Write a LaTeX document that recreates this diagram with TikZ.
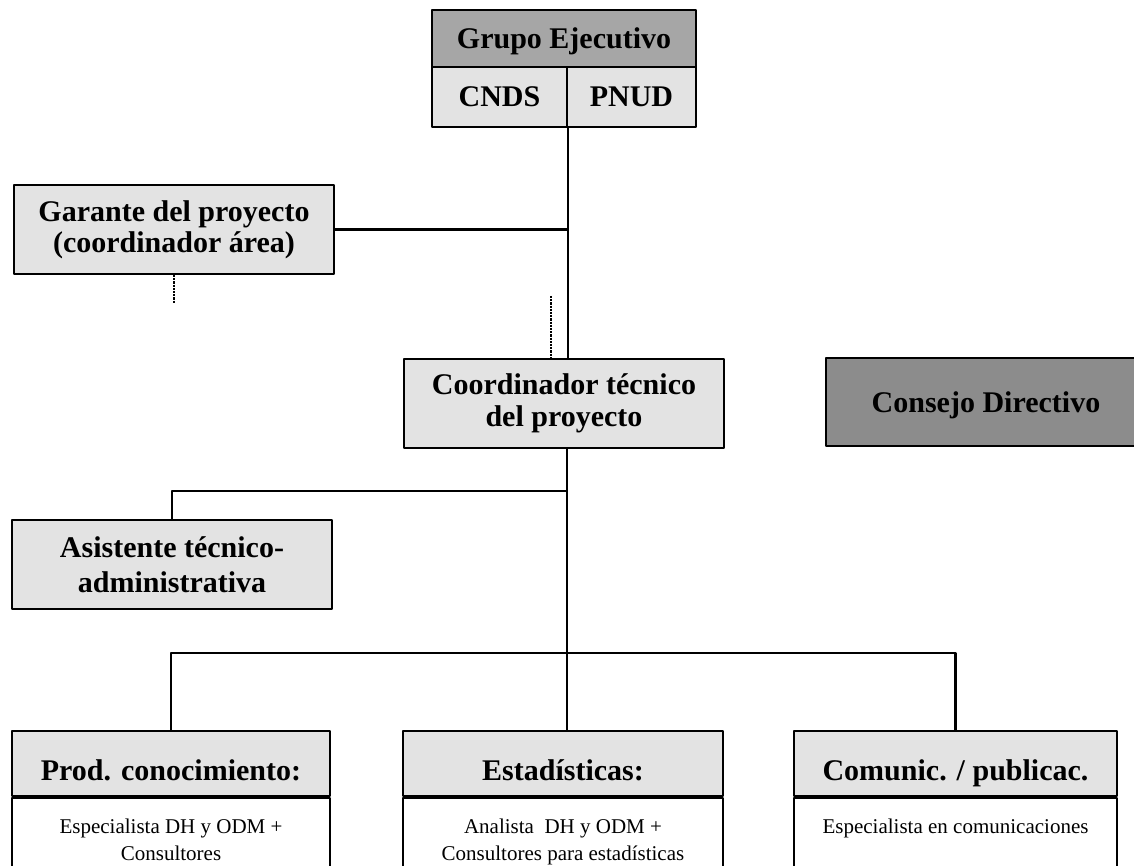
\documentclass[tikz,border=0pt]{standalone}
\usepackage{fontspec}
\setmainfont{Liberation Serif}
\begin{document}
\begin{tikzpicture}[x=1pt,y=-1pt,line join=round,
  box/.style={draw,line width=2pt,fill=black!11,inner sep=0pt,align=center,
    font=\fontsize{30}{32}\selectfont\bfseries},
  head/.style={box,minimum height=65pt,text height=34pt,text depth=0pt},
  body/.style={draw,line width=2pt,fill=white,anchor=north,inner xsep=0pt,inner ysep=20.5pt,
    font=\fontsize{21}{27}\selectfont},
  link/.style={line width=2.2pt}]
  \useasboundingbox (0,0) rectangle (1134,866);
  \clip (0,0) rectangle (1134,866);
  \fill[white] (0,0) rectangle (1134,866);
  \node (grupo) at (564,38.5) [box,fill=black!35,minimum width=264pt,minimum height=57pt,
    text height=20pt,text depth=0pt] {Grupo Ejecutivo};
  \node (cnds) at (499.5,97) [box,minimum width=135pt,minimum height=60pt,
    text height=20pt,text depth=0pt] {CNDS};
  \node (pnud) at (631.5,97) [box,minimum width=129pt,minimum height=60pt,
    text height=20pt,text depth=0pt] {PNUD};
  \node (garante) at (174,229.5) [box,minimum width=320pt,minimum height=89pt,
    font=\fontsize{30}{31}\selectfont\bfseries] {Garante del proyecto\\(coordinador área)};
  \node (coord) at (564,403.5) [box,minimum width=320pt,minimum height=89pt] {Coordinador técnico\\del proyecto};
  \node (consejo) at (986,402) [box,fill=black!45,minimum width=320pt,minimum height=88pt,
    text height=20pt,text depth=0pt] {Consejo Directivo};
  \node (asist) at (172,564.5) [box,minimum width=320pt,minimum height=89pt,
    font=\fontsize{30}{35}\selectfont\bfseries] {Asistente técnico-\\administrativa};
  \node (prod) at (171,763.5) [head,minimum width=318pt] {Prod. conocimiento:};
  \node (estad) at (563,763.5) [head,minimum width=320pt] {Estadísticas:};
  \node (comunic) at (955.5,763.5) [head,minimum width=323pt] {Comunic. / publicac.};
  \node (prodtxt) at (prod.south) [body] {\parbox[t][60pt][t]{318pt}{\centering
    Especialista DH y ODM +\\Consultores}};
  \node (estadtxt) at (estad.south) [body] {\parbox[t][60pt][t]{320pt}{\centering
    Analista~ DH y ODM +\\Consultores para estadísticas}};
  \node (comunictxt) at (comunic.south) [body] {\parbox[t][60pt][t]{323pt}{\centering
    Especialista en comunicaciones}};
  \coordinate (d1) at (173,303);
  \coordinate (d2) at (551,296);
  \coordinate (j1) at (567,491);
  \coordinate (j2) at (567,653);
  \draw[link] (cnds.south east) -- (cnds.south east |- coord.north);
  \draw[link] (garante.east) -- (garante.east -| j1);
  \draw[link] (coord.south -| j1) -- (j1) -- (j2) -- (j2 |- estad.north);
  \draw[link] (asist.north) |- (j1);
  \draw[link] (prod.north) |- (j2) -| (comunic.north);
  \draw[link,densely dotted] (garante.south) -- (garante.south |- d1);
  \draw[link,densely dotted] (d2) -- (d2 |- coord.north);
\end{tikzpicture}
\end{document}
